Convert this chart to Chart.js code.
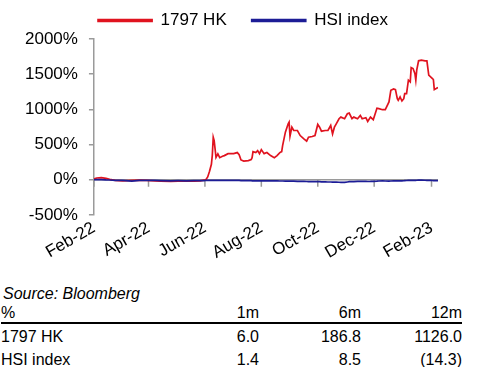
<!DOCTYPE html>
<html>
<head>
<meta charset="utf-8">
<script src="https://cdn.jsdelivr.net/npm/chart.js@4.4.0/dist/chart.umd.min.js"></script>
<style>
  body { margin: 0; background: #fff; font-family: "Liberation Sans", Arial, sans-serif; color: #000; }
  #wrap { position: relative; width: 477px; height: 367px; overflow: hidden; }
  #chartBox { position: absolute; left: 0; top: 0; width: 477px; height: 266px; }
  .src { position: absolute; left: 3px; top: 285px; font-size: 16px; font-style: italic; }
  table { position: absolute; left: 1px; top: 303px; border-collapse: collapse; font-size: 16px; }
  td { padding: 0; line-height: 19px; text-align: right; }
  td:first-child { text-align: left; width: 200px; }
  td.c1 { width: 58px; }
  td.c2 { width: 102px; }
  td.c3 { width: 101px; }
  tr.head td { border-bottom: 2px solid #000; padding-bottom: 0; }
  tr.first td { padding-top: 3px; }
  tr.last td { padding-top: 4px; }
</style>
</head>
<body>
<div id="wrap">
  <div id="chartBox"><canvas id="perfChart"></canvas></div>
  <div class="src">Source: Bloomberg</div>
  <table>
    <tr class="head"><td>%</td><td class="c1">1m</td><td class="c2">6m</td><td class="c3">12m</td></tr>
    <tr class="first"><td>1797 HK</td><td class="c1">6.0</td><td class="c2">186.8</td><td class="c3">1126.0</td></tr>
    <tr class="last"><td>HSI index</td><td class="c1">1.4</td><td class="c2">8.5</td><td class="c3">(14.3)</td></tr>
  </table>
</div>

<script>
/* ---------- DATA ---------- */
const DATES = [
  "2022-02-01", "2022-02-04", "2022-02-09", "2022-02-14", "2022-02-18", "2022-02-24",
  "2022-03-04", "2022-03-14", "2022-03-22", "2022-03-30", "2022-04-08", "2022-04-14",
  "2022-04-25", "2022-05-03", "2022-05-12", "2022-05-20", "2022-05-27", "2022-05-31",
  "2022-06-02", "2022-06-04", "2022-06-06", "2022-06-08", "2022-06-09", "2022-06-10",
  "2022-06-11", "2022-06-13", "2022-06-15", "2022-06-17", "2022-06-20", "2022-06-22",
  "2022-06-26", "2022-07-02", "2022-07-06", "2022-07-08", "2022-07-10", "2022-07-13",
  "2022-07-18", "2022-07-21", "2022-07-22", "2022-07-23", "2022-07-26", "2022-07-28",
  "2022-07-30", "2022-08-01", "2022-08-04", "2022-08-07", "2022-08-11", "2022-08-15",
  "2022-08-18", "2022-08-21", "2022-08-23", "2022-08-24", "2022-08-27", "2022-08-30",
  "2022-08-31", "2022-09-01", "2022-09-03", "2022-09-05", "2022-09-09", "2022-09-12",
  "2022-09-16", "2022-09-19", "2022-09-21", "2022-09-25", "2022-09-28", "2022-10-01",
  "2022-10-03", "2022-10-05", "2022-10-09", "2022-10-12", "2022-10-15", "2022-10-17",
  "2022-10-19", "2022-10-21", "2022-10-24", "2022-10-26", "2022-10-30", "2022-11-02",
  "2022-11-04", "2022-11-07", "2022-11-09", "2022-11-13", "2022-11-16", "2022-11-18",
  "2022-11-22", "2022-11-24", "2022-11-27", "2022-11-30", "2022-12-04", "2022-12-06",
  "2022-12-10", "2022-12-13", "2022-12-17", "2022-12-19", "2022-12-22", "2022-12-24",
  "2022-12-26", "2022-12-27", "2022-12-29", "2022-12-31", "2023-01-02", "2023-01-03",
  "2023-01-05", "2023-01-07", "2023-01-09", "2023-01-10", "2023-01-12", "2023-01-14",
  "2023-01-15", "2023-01-16", "2023-01-18", "2023-01-21", "2023-01-25", "2023-01-27",
  "2023-01-29", "2023-01-31", "2023-02-02", "2023-02-03", "2023-02-04", "2023-02-06",
  "2023-02-08"
];

// cumulative return since start, %
const HK_1797 = [
  10, 25, 30, 20, 5, -10,
  -15, -10, -5, -10, -15, -20,
  -25, -20, -15, -20, -15, -5,
  0, 40, 120, 220, 350, 604,
  557, 318, 367, 314, 333, 343,
  371, 371, 386, 357, 281, 265,
  271, 286, 314, 400, 386, 414,
  371, 428, 371, 386, 343, 314,
  343, 386, 400, 486, 676, 795,
  818, 620, 747, 700, 700, 628,
  581, 548, 604, 614, 628, 786,
  747, 690, 700, 700, 771, 652,
  747, 795, 867, 890, 867, 938,
  947, 867, 890, 867, 914, 867,
  881, 828, 890, 853, 1017, 1010,
  995, 995, 1105, 1271, 1290, 1281,
  1152, 1129, 1176, 1119, 1152, 1224,
  1224, 1414, 1390, 1595, 1581, 1510,
  1414, 1557, 1690, 1700, 1690, 1690,
  1486, 1462, 1438, 1424, 1281, 1295,
  1310
];

const HSI = [
  0, 3, 2, -2, -4, -8,
  -8, -20, -10, -8, -9, -12,
  -15, -14, -15, -13, -12, -12,
  -10, -9, -8, -8, -8, -9,
  -9, -10, -10, -9, -9, -10,
  -8, -9, -10, -10, -12, -13,
  -14, -14, -15, -15, -16, -16,
  -17, -16, -16, -17, -16, -16,
  -17, -18, -18, -18, -19, -19,
  -20, -20, -20, -21, -22, -22,
  -24, -25, -26, -27, -28, -27,
  -28, -29, -31, -32, -32, -33,
  -33, -34, -36, -37, -38, -32,
  -28, -27, -26, -24, -22, -23,
  -24, -25, -24, -22, -20, -18,
  -17, -18, -19, -18, -17, -17,
  -17, -16, -16, -16, -14, -12,
  -11, -10, -9, -9, -8, -8,
  -8, -7, -6, -6, -7, -8,
  -9, -10, -11, -12, -12, -13,
  -14
];

const TICK_DATES  = ["2022-02-01", "2022-04-01", "2022-06-01", "2022-08-01", "2022-10-01", "2022-12-01", "2023-02-01"];
const TICK_LABELS = ["Feb-22", "Apr-22", "Jun-22", "Aug-22", "Oct-22", "Dec-22", "Feb-23"];
const AXIS_END = "2023-02-08";

const Y_MIN = -500, Y_MAX = 2000, Y_STEP = 500;

/* ---------- HELPERS ---------- */
const DAY = 86400000;
const base = Date.parse(DATES[0]);
const dayOf = d => (Date.parse(d) - base) / DAY;

const toPoints = values => DATES.map((d, i) => ({ x: dayOf(d), y: values[i] }));

const FONT = { family: "'Liberation Sans', Arial, sans-serif", size: 17 };
const AXIS_GREY = "#9a9a9a";
const LEGEND_SHIFT = 17;

// grey axis line through 0% with tick marks hanging below it
const zeroAxis = {
  id: "zeroAxis",
  beforeDatasetsDraw(chart) {
    const { ctx, chartArea, scales: { x, y } } = chart;
    const y0 = y.getPixelForValue(0);
    ctx.save();
    ctx.strokeStyle = AXIS_GREY;
    ctx.lineWidth = 1.5;
    ctx.beginPath();
    ctx.moveTo(chartArea.left, y0);
    ctx.lineTo(chartArea.right, y0);
    x.ticks.forEach(t => {
      const px = x.getPixelForValue(t.value);
      ctx.moveTo(px, y0);
      ctx.lineTo(px, y0 + 7);
    });
    ctx.stroke();
    ctx.restore();
  }
};

// nudge the legend a bit to the right of the canvas centre
const legendNudge = {
  id: "legendNudge",
  afterLayout(chart) {
    chart.legend.left += LEGEND_SHIFT;
    chart.legend.right += LEGEND_SHIFT;
  }
};

/* ---------- CHART ---------- */
new Chart(document.getElementById("perfChart"), {
  type: "line",
  data: {
    datasets: [
      {
        label: "1797 HK",
        data: toPoints(HK_1797),
        borderColor: "#e0131f",
        backgroundColor: "#e0131f",
        borderWidth: 1.7,
        pointRadius: 0,
        tension: 0,
        order: 1
      },
      {
        label: "HSI index",
        data: toPoints(HSI),
        borderColor: "#1c1c96",
        backgroundColor: "#1c1c96",
        borderWidth: 1.7,
        pointRadius: 0,
        tension: 0,
        order: 0
      }
    ]
  },
  options: {
    responsive: true,
    maintainAspectRatio: false,
    animation: false,
    layout: {
      padding: { top: -13, left: 14, right: 39, bottom: 0 }
    },
    scales: {
      x: {
        type: "linear",
        min: 0,
        max: dayOf(AXIS_END),
        afterBuildTicks: axis => {
          axis.ticks = TICK_DATES.map(d => ({ value: dayOf(d) }));
        },
        ticks: {
          autoSkip: false,
          minRotation: 30,
          maxRotation: 30,
          padding: 3,
          color: "#000",
          font: FONT,
          callback: (v, i) => TICK_LABELS[i]
        },
        grid: { display: false, drawTicks: false },
        border: { display: false }
      },
      y: {
        min: Y_MIN,
        max: Y_MAX,
        ticks: {
          stepSize: Y_STEP,
          padding: 11,
          color: "#000",
          font: FONT,
          callback: v => v + "%"
        },
        grid: {
          drawOnChartArea: false,
          drawTicks: true,
          tickLength: 5,
          color: AXIS_GREY,
          lineWidth: 1.5
        },
        border: { color: AXIS_GREY, width: 1.5 }
      }
    },
    plugins: {
      legend: {
        position: "top",
        labels: {
          boxWidth: 54,
          boxHeight: 2,
          padding: 25,
          color: "#000",
          font: FONT,
          sort: (a, b) => a.datasetIndex - b.datasetIndex
        }
      },
      tooltip: { enabled: false }
    }
  },
  plugins: [zeroAxis, legendNudge]
});
</script>
</body>
</html>
